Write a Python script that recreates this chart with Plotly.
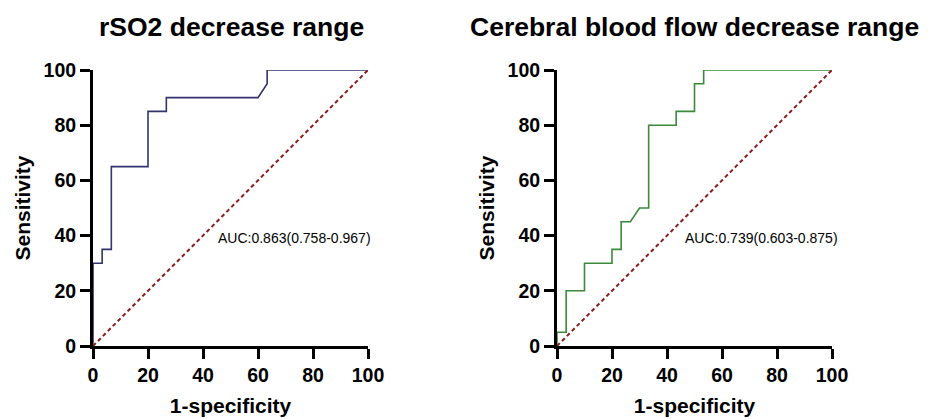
import plotly.graph_objects as go

# Left panel: rSO2 decrease range ROC curve (percent)
rso2_fpr = [0, 0, 3.33, 3.33, 6.67, 6.67, 20, 20, 26.67, 26.67, 60, 63.33, 63.33, 100]
rso2_tpr = [0, 30, 30, 35, 35, 65, 65, 85, 85, 90, 90, 95, 100, 100]
rso2_auc = "AUC:0.863(0.758-0.967)"

# Right panel: cerebral blood flow decrease range ROC curve (percent)
cbf_fpr = [0, 0, 3.33, 3.33, 10, 10, 20, 20, 23.33, 23.33, 26.67, 30, 33.33, 33.33,
           43.33, 43.33, 50, 50, 53.33, 53.33, 100]
cbf_tpr = [0, 5, 5, 20, 20, 30, 30, 35, 35, 45, 45, 50, 50, 80,
           80, 85, 85, 95, 95, 100, 100]
cbf_auc = "AUC:0.739(0.603-0.875)"

diag = [0, 100]
ticks = [0, 20, 40, 60, 80, 100]

titles = ["rSO2 decrease range", "Cerebral blood flow decrease range"]

FONT = "Liberation Sans, Arial, sans-serif"

fig = go.Figure()

fig.add_trace(go.Scatter(x=rso2_fpr, y=rso2_tpr, mode="lines",
                         line=dict(color="#33336e", width=1.6), xaxis="x", yaxis="y",
                         showlegend=False))
fig.add_trace(go.Scatter(x=diag, y=diag, mode="lines",
                         line=dict(color="#8b1c1c", width=2, dash="4px,3px"),
                         xaxis="x", yaxis="y", showlegend=False))
fig.add_trace(go.Scatter(x=cbf_fpr, y=cbf_tpr, mode="lines",
                         line=dict(color="#3a8a3a", width=1.6), xaxis="x2", yaxis="y2",
                         showlegend=False))
fig.add_trace(go.Scatter(x=diag, y=diag, mode="lines",
                         line=dict(color="#8b1c1c", width=2, dash="4px,3px"),
                         xaxis="x2", yaxis="y2", showlegend=False))

axis_common = dict(
    range=[0, 100], tickvals=ticks, showgrid=False, zeroline=False,
    showline=True, linecolor="black", linewidth=3, automargin=False,
    ticks="outside", ticklen=10, tickwidth=3, tickcolor="black",
    tickfont=dict(family=FONT, size=19.5, color="black", weight="bold"),
)

ydom = [(419 - 346) / 419, (419 - 70) / 419]
title_font = dict(family=FONT, size=21, color="black", weight="bold")

fig.update_layout(
    width=928, height=419,
    margin=dict(l=0, r=0, t=0, b=0),
    paper_bgcolor="white", plot_bgcolor="white",
    xaxis=dict(domain=[93 / 928, 368 / 928], anchor="y",
               title=dict(text="1-specificity", standoff=13, font=title_font),
               **axis_common),
    yaxis=dict(domain=ydom, anchor="x",
               title=dict(text="Sensitivity", standoff=8, font=title_font),
               **axis_common),
    xaxis2=dict(domain=[557 / 928, 832 / 928], anchor="y2",
                title=dict(text="1-specificity", standoff=13, font=title_font),
                **axis_common),
    yaxis2=dict(domain=ydom, anchor="x2",
                title=dict(text="Sensitivity", standoff=8, font=title_font),
                **axis_common),
)

fig.add_annotation(text=rso2_auc, x=44.7, y=39, xref="x", yref="y",
                   xanchor="left", yanchor="middle", showarrow=False,
                   font=dict(family=FONT, size=14, color="black"))
fig.add_annotation(text=cbf_auc, x=45.9, y=39, xref="x2", yref="y2",
                   xanchor="left", yanchor="middle", showarrow=False,
                   font=dict(family=FONT, size=14, color="black"))

fig.add_annotation(text=titles[0], x=231 / 928, y=1 - 27 / 419, xref="paper", yref="paper",
                   xanchor="center", yanchor="middle", showarrow=False,
                   font=dict(family=FONT, size=26.5, color="black", weight="bold"))
fig.add_annotation(text=titles[1], x=694 / 928, y=1 - 27 / 419, xref="paper", yref="paper",
                   xanchor="center", yanchor="middle", showarrow=False,
                   font=dict(family=FONT, size=26.5, color="black", weight="bold"))

fig.write_html("out.html", config={"displayModeBar": False},
               post_script="document.body.style.margin='0';document.body.style.overflow='hidden';")
